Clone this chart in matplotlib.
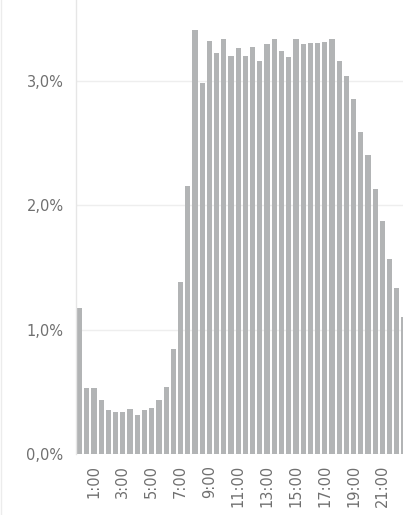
import matplotlib
matplotlib.use("Agg")
import matplotlib.pyplot as plt
from matplotlib.ticker import FuncFormatter, FixedLocator
from matplotlib.lines import Line2D

# Half-hour bins starting at 0:00
slots = [f"{h}:{m:02d}" for h in range(0, 23) for m in (0, 30)]
share_pct = [1.17, 0.53, 0.53, 0.43, 0.35, 0.34, 0.34, 0.36, 0.31, 0.35,
             0.37, 0.43, 0.54, 0.84, 1.38, 2.15, 3.41, 2.98, 3.32, 3.22,
             3.33, 3.20, 3.26, 3.20, 3.27, 3.16, 3.29, 3.33, 3.24, 3.19,
             3.33, 3.29, 3.30, 3.30, 3.31, 3.33, 3.16, 3.04, 2.85, 2.59,
             2.40, 2.13, 1.87, 1.57, 1.33, 1.10]
tick_labels = ["1:00", "3:00", "5:00", "7:00", "9:00", "11:00",
               "13:00", "15:00", "17:00", "19:00", "21:00"]
y_ticks = [0.0, 1.0, 2.0, 3.0]

fig = plt.figure(figsize=(4.03, 5.15), dpi=100)
ax = fig.add_axes([76 / 403, (515 - 454) / 515, 1 - 76 / 403, 454 / 515])

xpos = list(range(len(slots)))
ax.bar(xpos, share_pct, width=0.72, color="#b2b4b5", zorder=2)

ax.set_xlim(-0.5, 44.85)
ax.set_ylim(0, 3.647)

tick_pos = [slots.index(t) for t in tick_labels]
ax.xaxis.set_major_locator(FixedLocator(tick_pos))
ax.set_xticklabels(tick_labels, rotation=90, fontsize=10.5, color="#707070")
ax.yaxis.set_major_locator(FixedLocator(y_ticks))
ax.yaxis.set_major_formatter(FuncFormatter(lambda v, p: f"{v:.1f}%".replace(".", ",")))
for lab in ax.get_yticklabels():
    lab.set_fontsize(10.5)
    lab.set_color("#707070")

ax.tick_params(axis="both", length=0)
ax.tick_params(axis="x", pad=8)
ax.tick_params(axis="y", pad=9)

ax.grid(axis="y", color="#eeeeee", linewidth=1.0, zorder=0)
ax.grid(axis="x", visible=False)
for s in ["top", "right", "bottom"]:
    ax.spines[s].set_visible(False)
ax.spines["left"].set_color("#e6e6e6")
ax.spines["left"].set_linewidth(1.0)

fig.add_artist(Line2D([0.002, 0.002], [0, 1], color="#ececec", linewidth=1.0))

fig.savefig("out.png", dpi=100)
